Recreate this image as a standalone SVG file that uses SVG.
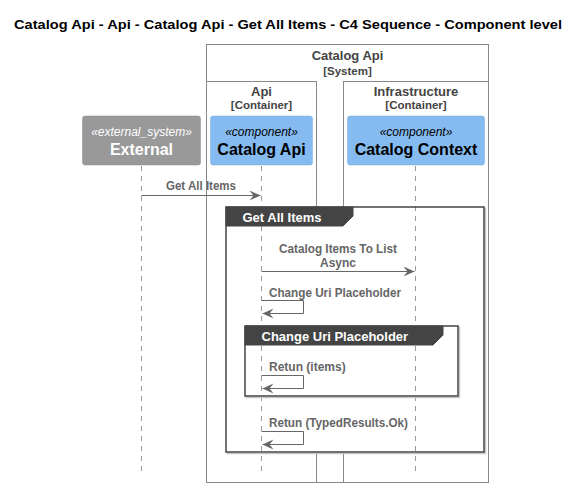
<svg xmlns="http://www.w3.org/2000/svg" width="578" height="487" viewBox="0 0 578 487">
<defs>
<style>
text{font-family:"Liberation Sans",Arial,sans-serif}
.title{font-size:12.5px;font-weight:bold;fill:#000}
.bnd{fill:none;stroke:#888;stroke-width:1}
.bname{font-size:13px;font-weight:bold;fill:#444;text-anchor:middle}
.btype{font-size:11.5px;font-weight:bold;fill:#444;text-anchor:middle}
.ster{font-size:12px;font-style:italic;text-anchor:middle}
.pname{font-size:16px;font-weight:bold;text-anchor:middle}
.life{stroke:#999;stroke-width:1;stroke-dasharray:5,5}
.msg{stroke:#666;stroke-width:1;fill:none}
.mlbl{font-size:12px;font-weight:bold;fill:#666}
.gbody{fill:#fff;stroke:none}
.gframe{fill:none;stroke:#444;stroke-width:1.5}
.gshadow{fill:none;stroke:#c8c8c8;stroke-width:1.5}
.gtab{fill:#444;stroke:#444;stroke-width:1}
.gtxt{font-size:13px;font-weight:bold;fill:#fff}
</style>
<marker id="arr" markerUnits="userSpaceOnUse" markerWidth="12" markerHeight="11" refX="11" refY="5" orient="auto" viewBox="0 0 12 11">
<path d="M0,0 L11,5 L0,10 L4,5 Z" fill="#666"/>
</marker>
</defs>
<rect width="578" height="487" fill="#fff"/>
<text class="title" x="288" y="28.5" text-anchor="middle" textLength="548" lengthAdjust="spacingAndGlyphs">Catalog Api - Api - Catalog Api - Get All Items - C4 Sequence - Component level</text>

<g id="boundary-catalog-api">
<rect class="bnd" x="206.5" y="44.5" width="282" height="438"/>
<text class="bname" x="347.5" y="59.5">Catalog Api</text>
<text class="btype" x="347.5" y="74.5">[System]</text>
</g>
<g id="boundary-api">
<rect class="bnd" x="206.5" y="81.5" width="110" height="401"/>
<text class="bname" x="261.5" y="95.5">Api</text>
<text class="btype" x="261.5" y="109">[Container]</text>
</g>
<g id="boundary-infrastructure">
<rect class="bnd" x="343.5" y="81.5" width="145" height="401"/>
<text class="bname" x="416" y="95.5">Infrastructure</text>
<text class="btype" x="416" y="109">[Container]</text>
</g>

<g id="group-bodies">
<rect class="gshadow" x="227.5" y="208.5" width="258" height="245"/>
<rect class="gbody" x="226" y="207" width="258" height="245"/>
</g>

<g id="lifelines">
<line class="life" x1="141.5" y1="166" x2="141.5" y2="471"/>
<line class="life" x1="261.5" y1="166" x2="261.5" y2="471"/>
<line class="life" x1="415.5" y1="166" x2="415.5" y2="471"/>
</g>

<g id="group-get-all-items">
<rect class="gframe" x="226" y="207" width="258" height="245"/>
<path class="gtab" d="M226,207 L353,207 L353,216 L343,226 L226,226 Z"/>
<text class="gtxt" x="242.5" y="221.5">Get All Items</text>
</g>

<g id="group-change-uri-placeholder">
<rect class="gshadow" x="246.5" y="327.5" width="213" height="70"/>
<rect class="gbody" x="245" y="326" width="213" height="70"/>
<line class="life" x1="261.5" y1="326" x2="261.5" y2="396"/>
<line class="life" x1="415.5" y1="326" x2="415.5" y2="396"/>
<rect class="gframe" x="245" y="326" width="213" height="70"/>
<path class="gtab" d="M245,326 L443,326 L443,335 L433,345 L245,345 Z"/>
<text class="gtxt" x="261.5" y="340.5">Change Uri Placeholder</text>
</g>

<g id="external">
<rect x="82.5" y="116" width="118" height="49" rx="2.5" fill="#999" stroke="#8a8a8a" stroke-width="0.5"/>
<text class="ster" x="141.5" y="136" fill="#fff">«external_system»</text>
<text class="pname" x="141.5" y="155" fill="#fff">External</text>
</g>
<g id="catalog-api">
<rect x="210.5" y="116" width="102" height="49" rx="2.5" fill="#85BBF0" stroke="#78a8d8" stroke-width="0.5"/>
<text class="ster" x="261.5" y="136" fill="#000">«component»</text>
<text class="pname" x="261.5" y="155" fill="#000">Catalog Api</text>
</g>
<g id="catalog-context">
<rect x="347.5" y="116" width="137" height="49" rx="2.5" fill="#85BBF0" stroke="#78a8d8" stroke-width="0.5"/>
<text class="ster" x="416" y="136" fill="#000">«component»</text>
<text class="pname" x="416" y="155" fill="#000">Catalog Context</text>
</g>

<g id="connectors">
<line class="msg" x1="141.5" y1="195.5" x2="260.5" y2="195.5" marker-end="url(#arr)"/>
<text class="mlbl" x="201" y="190" text-anchor="middle" textLength="70" lengthAdjust="spacingAndGlyphs">Get All Items</text>

<line class="msg" x1="261.5" y1="271.5" x2="414.5" y2="271.5" marker-end="url(#arr)"/>
<text class="mlbl" x="338" y="253" text-anchor="middle" textLength="118" lengthAdjust="spacingAndGlyphs">Catalog Items To List</text>
<text class="mlbl" x="338" y="267" text-anchor="middle">Async</text>

<polyline class="msg" points="261.5,300.5 303.5,300.5 303.5,313.5 262.5,313.5" marker-end="url(#arr)"/>
<text class="mlbl" x="269" y="297" textLength="132" lengthAdjust="spacingAndGlyphs">Change Uri Placeholder</text>

<polyline class="msg" points="261.5,375.5 303.5,375.5 303.5,388.5 262.5,388.5" marker-end="url(#arr)"/>
<text class="mlbl" x="269" y="371">Retun (items)</text>

<polyline class="msg" points="261.5,431.5 303.5,431.5 303.5,444.5 262.5,444.5" marker-end="url(#arr)"/>
<text class="mlbl" x="269" y="427" textLength="139" lengthAdjust="spacingAndGlyphs">Retun (TypedResults.Ok)</text>
</g>
</svg>
